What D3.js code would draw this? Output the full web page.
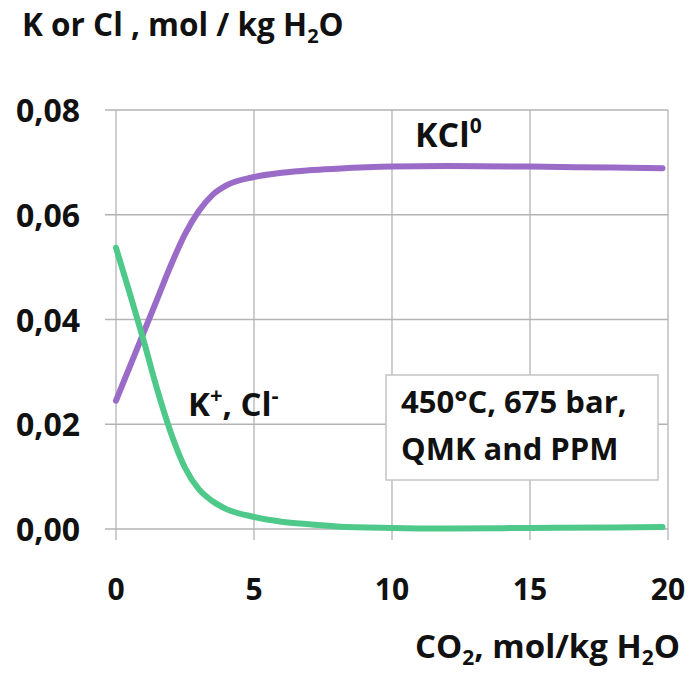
<!DOCTYPE html>
<html>
<head>
<meta charset="utf-8">
<script src="https://cdn.jsdelivr.net/npm/d3@7"></script>
<style>
  body { margin: 0; background: #fff; }
  text { font-family: "Open Sans", Lato, sans-serif; font-weight: 700; fill: #111; }
</style>
</head>
<body>
<svg id="chart" width="692" height="677"></svg>
<script>
// values
const co2 = [0, 0.5, 1, 1.5, 2, 2.5, 3, 3.5, 4, 5, 6, 7, 8, 10, 12, 15, 18, 19.8];
const kcl0 = [0.0245, 0.031, 0.0375, 0.044, 0.0505, 0.0563, 0.0607, 0.0638, 0.0656, 0.0672, 0.068, 0.0685, 0.0688, 0.0692, 0.0693, 0.0692, 0.069, 0.0689];
const kPlusClMinus = [0.0537, 0.045, 0.036, 0.0265, 0.0182, 0.0117, 0.0076, 0.0053, 0.0038, 0.0023, 0.0014, 0.0009, 0.0005, 0.0002, 0.0001, 0.0002, 0.0003, 0.0004];
const xTicks = [0, 5, 10, 15, 20];
const yTicks = [0, 0.02, 0.04, 0.06, 0.08];

const svg = d3.select("#chart");

const x = d3.scaleLinear().domain([0, 20]).range([116, 668]);
const y = d3.scaleLinear().domain([0, 0.08]).range([529, 110]);

const fmtY = (d) => d3.format(".2f")(d).replace(".", ",");

// grid
const grid = svg.append("g").attr("stroke", "#b3b3b3").attr("stroke-width", 1.3);
grid.selectAll(".h").data(yTicks).join("line")
  .attr("x1", x(0) - 11).attr("x2", x(20))
  .attr("y1", (d) => y(d)).attr("y2", (d) => y(d));
grid.selectAll(".v").data(xTicks).join("line")
  .attr("x1", (d) => x(d)).attr("x2", (d) => x(d))
  .attr("y1", y(0.08)).attr("y2", y(0) + 11);

// tick labels
svg.append("g").selectAll("text").data(yTicks).join("text")
  .attr("x", 80).attr("y", (d) => y(d) + 12)
  .attr("text-anchor", "end").attr("font-size", 32)
  .text(fmtY);
svg.append("g").selectAll("text").data(xTicks).join("text")
  .attr("x", (d) => x(d)).attr("y", 600)
  .attr("text-anchor", "middle").attr("font-size", 30)
  .text((d) => d);

// curves
const line = d3.line().curve(d3.curveMonotoneX)
  .x((d, i) => x(co2[i])).y((d) => y(d));
svg.append("path").datum(kcl0)
  .attr("d", line).attr("fill", "none")
  .attr("stroke", "#9b6bc8").attr("stroke-width", 6).attr("stroke-linecap", "round");
svg.append("path").datum(kPlusClMinus)
  .attr("d", line).attr("fill", "none")
  .attr("stroke", "#4ec98a").attr("stroke-width", 6).attr("stroke-linecap", "round");

// series labels
const kcl = svg.append("text").attr("x", 415).attr("y", 147).attr("font-size", 34);
kcl.append("tspan").text("KCl");
kcl.append("tspan").attr("font-size", 21).attr("dy", -14).text("0");

const kp = svg.append("text").attr("x", 188).attr("y", 416).attr("font-size", 33);
kp.append("tspan").text("K");
kp.append("tspan").attr("font-size", 22).attr("dy", -13).text("+");
kp.append("tspan").attr("dy", 13).text(", Cl");
kp.append("tspan").attr("font-size", 22).attr("dy", -13).text("-");

// condition box
svg.append("rect")
  .attr("x", 386).attr("y", 375).attr("width", 272).attr("height", 105)
  .attr("fill", "#fff").attr("stroke", "#c4c4c4").attr("stroke-width", 1.5);
svg.append("text").attr("x", 401).attr("y", 413).attr("font-size", 31).text("450°C, 675 bar,");
svg.append("text").attr("x", 401).attr("y", 460).attr("font-size", 31).text("QMK and PPM");

// axis titles
const yt = svg.append("text").attr("x", 22).attr("y", 36).attr("font-size", 31.5);
yt.append("tspan").text("K or Cl , mol / kg H");
yt.append("tspan").attr("font-size", 20).attr("dy", 7).text("2");
yt.append("tspan").attr("dy", -7).text("O");

const xt = svg.append("text").attr("x", 415).attr("y", 658).attr("font-size", 33);
xt.append("tspan").text("CO");
xt.append("tspan").attr("font-size", 21).attr("dy", 7).text("2");
xt.append("tspan").attr("dy", -7).text(", mol/kg H");
xt.append("tspan").attr("font-size", 21).attr("dy", 7).text("2");
xt.append("tspan").attr("dy", -7).text("O");
</script>
</body>
</html>
